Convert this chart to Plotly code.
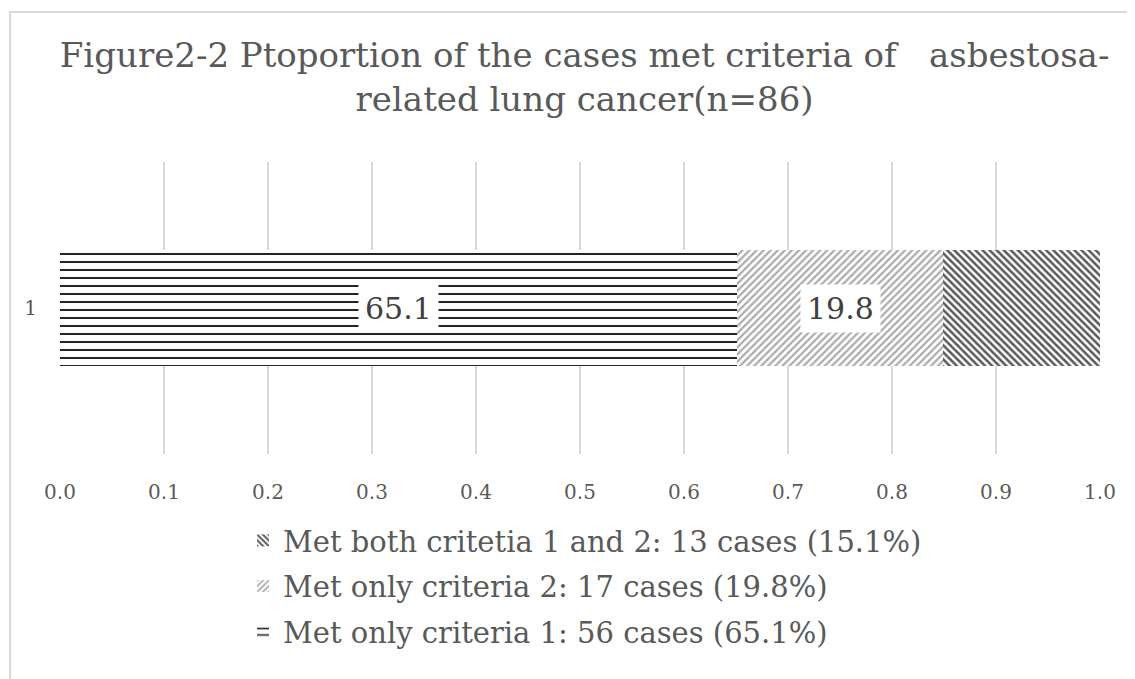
import plotly.graph_objects as go

category = ["1"]
series_names = [
    "Met only criteria 1: 56 cases (65.1%)",
    "Met only criteria 2: 17 cases (19.8%)",
    "Met both critetia 1 and 2: 13 cases (15.1%)",
]
series_values = [0.651, 0.198, 0.151]
data_labels = ["65.1", "19.8", None]
x_ticks = [0.0, 0.1, 0.2, 0.3, 0.4, 0.5, 0.6, 0.7, 0.8, 0.9, 1.0]

patterns = [
    dict(shape="-", fgcolor="#262626", fgopacity=1, bgcolor="white", size=8, solidity=0.25),
    dict(shape="/", fgcolor="#ababab", fgopacity=1, bgcolor="white", size=5, solidity=0.45),
    dict(shape="\\", fgcolor="#595959", fgopacity=1, bgcolor="white", size=5, solidity=0.5),
]

FONT = "DejaVu Serif"
fig = go.Figure()
n = len(series_names)
for i, (name, val, pat) in enumerate(zip(series_names, series_values, patterns)):
    fig.add_trace(go.Bar(
        y=category, x=[val], name=name, orientation="h", legendgroup=f"g{i}",
        legendrank=1000 + (n - i),
        marker=dict(color="white", pattern=pat, line=dict(width=0)),
        width=0.4, hoverinfo="skip",
    ))

cum = 0.0
for val, lab in zip(series_values, data_labels):
    if lab:
        fig.add_annotation(x=cum + val / 2, y=0, text=lab, showarrow=False,
                           bgcolor="white", borderpad=6,
                           font=dict(family=FONT, size=30, color="#404040"))
    cum += val

fig.add_shape(type="rect", xref="paper", yref="paper",
              x0=-0.048, x1=1.2, y0=-2, y1=1.514,
              line=dict(color="#d9d9d9", width=2), fillcolor="rgba(0,0,0,0)", layer="below")

fig.update_layout(
    width=1135, height=679,
    margin=dict(l=52, r=43, t=154, b=233),
    paper_bgcolor="white", plot_bgcolor="white",
    barmode="stack", bargap=0.6,
    title=dict(text="Figure2-2 Ptoportion of the cases met criteria of   asbestosa-<br>related lung cancer(n=86)",
               x=0.508, xanchor="center", y=0.913, yanchor="middle",
               font=dict(family=FONT, size=34, color="#595959")),
    xaxis=dict(range=[0, 1], tickvals=x_ticks, ticktext=[f"{t:.1f}" for t in x_ticks],
               showgrid=True, gridcolor="#d9d9d9", gridwidth=1.5, zeroline=False,
               showline=False, ticks="", ticklabelstandoff=24,
               tickfont=dict(family=FONT, size=20, color="#595959")),
    yaxis=dict(type="category", range=[-0.5, 0.5], showgrid=False, zeroline=False, showline=False,
               ticks="", ticklabelstandoff=22,
               tickfont=dict(family=FONT, size=20, color="#595959")),
    legend=dict(orientation="v", traceorder="grouped", x=0.176, xanchor="left",
                y=-0.209, yanchor="top", tracegroupgap=5,
                font=dict(family=FONT, size=29, color="#595959")),
    showlegend=True,
)

fig.write_html("out.html")
